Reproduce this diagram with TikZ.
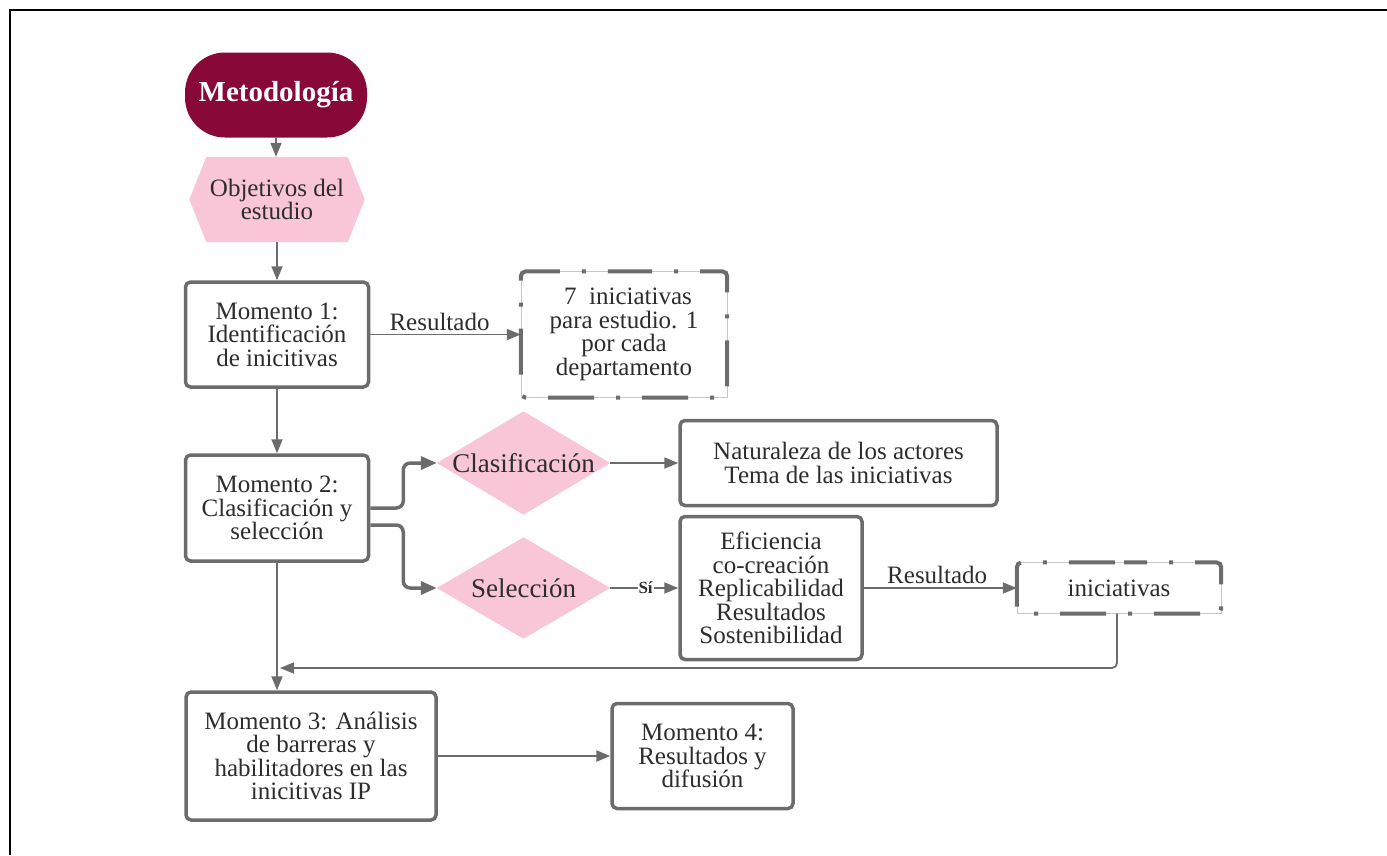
\documentclass[tikz,border=0pt]{standalone}
\usepackage{fontspec}
\setmainfont{Liberation Serif}
\usetikzlibrary{arrows.meta,calc}

\definecolor{vino}{RGB}{136,8,56}
\definecolor{rosa}{RGB}{248,198,214}
\definecolor{trazo}{RGB}{108,108,108}
\definecolor{tinta}{RGB}{45,45,45}

\tikzset{
  base/.style={align=center, text=tinta, font=\fontsize{25}{23.5}\selectfont, inner sep=0pt},
  pill/.style={base, fill=vino, text=white, font=\fontsize{29}{30}\selectfont\bfseries,
    rounded corners=40pt, minimum width=182pt, minimum height=85pt},
  stepbox/.style={base, draw=trazo, line width=3.5pt, rounded corners=5pt, fill=white},
  decision/.style={base, font=\fontsize{27}{28}\selectfont},
  plainbox/.style={base},
  faintframe/.style={draw=black!22, line width=0.6pt},
  dashframe/.style={draw=trazo, line width=4pt, rounded corners=5pt,
    dash pattern=on 46pt off 22pt on 4pt off 22pt, dash phase=23pt},
  flow/.style={draw=trazo, line width=1.8pt, -{Triangle[length=14pt,width=11pt]}},
  branch/.style={draw=trazo, line width=3.5pt, rounded corners=7pt,
    -{Triangle[length=16pt,width=13pt]}},
  tag/.style={text=tinta, font=\fontsize{25}{26}\selectfont, inner sep=3pt},
}

\begin{document}
\begin{tikzpicture}[x=1pt,y=-1pt]
\useasboundingbox (0,0) rectangle (1387,855);

% frame lines along the top and left edges
\draw[black, line width=1.6pt] (10,855) -- (10,10) -- (1387,10);

% start
\node[pill] (met) at (276,95) {Metodología};

% objectives hexagon
\node[plainbox, minimum width=175pt, minimum height=85pt] (obj) at (277,199.5) {};
\fill[rosa] (obj.west) -- ($(obj.north west)+(17,0)$) -- ($(obj.north east)+(-17,0)$)
  -- (obj.east) -- ($(obj.south east)+(-17,0)$) -- ($(obj.south west)+(17,0)$) -- cycle;
\node[plainbox] at (obj.center) {Objetivos del\\estudio};

% stage 1
\node[stepbox, minimum width=183pt, minimum height=105pt] (m1) at (277,334.5)
  {Momento 1:\\Identificación\\de inicitivas};
\node[plainbox, minimum width=206pt, minimum height=126pt] (r1) at (624,334.5)
  {\hspace*{8pt}7 \ iniciativas\\para estudio. 1\\por cada\\departamento};
\draw[faintframe] (r1.north west) rectangle (r1.south east);
\draw[dashframe] (r1.north) -- (r1.north east) -- (r1.south east) -- (r1.south west)
  -- (r1.north west) -- cycle;

% stage 2
\node[stepbox, minimum width=183pt, minimum height=106pt] (m2) at (277,508)
  {Momento 2:\\Clasificación y\\selección};

% decision diamonds
\node[decision, minimum width=173pt, minimum height=103pt] (clas) at (523.5,463) {};
\fill[rosa] (clas.west) -- (clas.north) -- (clas.east) -- (clas.south) -- cycle;
\node[decision] at (clas.center) {Clasificación};
\node[decision, minimum width=173pt, minimum height=101pt] (sel) at (523.5,588) {};
\fill[rosa] (sel.west) -- (sel.north) -- (sel.east) -- (sel.south) -- cycle;
\node[decision] at (sel.center) {Selección};

\node[stepbox, minimum width=317pt, minimum height=85pt] (nat) at (838.5,463)
  {Naturaleza de los actores\\Tema de las iniciativas};
\node[stepbox, minimum width=182pt, minimum height=143pt] (ef) at (771,588)
  {Eficiencia\\co-creación\\Replicabilidad\\Resultados\\Sostenibilidad};
\node[plainbox, minimum width=204pt, minimum height=51pt] (ini) at (1119,588) {iniciativas};
\draw[faintframe] (ini.north west) rectangle (ini.south east);
\draw[dashframe] (ini.north) -- (ini.north east) -- (ini.south east) -- (ini.south west)
  -- (ini.north west) -- cycle;

% stages 3 and 4
\node[stepbox, minimum width=250pt, minimum height=128pt] (m3) at (311,756)
  {Momento 3: Análisis\\de barreras y\\habilitadores en las\\inicitivas IP};
\node[stepbox, minimum width=181pt, minimum height=105pt] (m4) at (702.5,756)
  {Momento 4:\\Resultados y\\difusión};

\coordinate (join) at (280,668);

% connectors
\draw[flow] (met.south) -- (met.south |- obj.north);
\draw[flow] (obj.south) -- (obj.south |- m1.north);
\draw[flow] (m1.east) -- node[tag, above, pos=0.46] {Resultado} (r1.west);
\draw[flow] (m1.south) -- (m2.north);
\draw[branch] (m2.east) -- ++(33,0) |- (clas.west);
\draw[branch] ($(m2.east)+(0,17)$) -- ++(33,0) |- (sel.west);
\draw[flow] (clas.east) -- (nat.west);
\draw[flow] (sel.east) -- node[fill=white, inner sep=1pt, pos=0.52, text=tinta,
  font=\fontsize{17}{18}\selectfont\bfseries] {Sí} (ef.west);
\draw[flow] (ef.east) -- node[tag, above, pos=0.48] {Resultado} (ini.west);
\draw[flow, rounded corners=5pt] ([xshift=-2pt]ini.south) |- (join);
\draw[flow] (m2.south) -- (m2.south |- m3.north);
\draw[flow, line width=2.4pt] (m3.east) -- (m4.west);
\end{tikzpicture}
\end{document}
